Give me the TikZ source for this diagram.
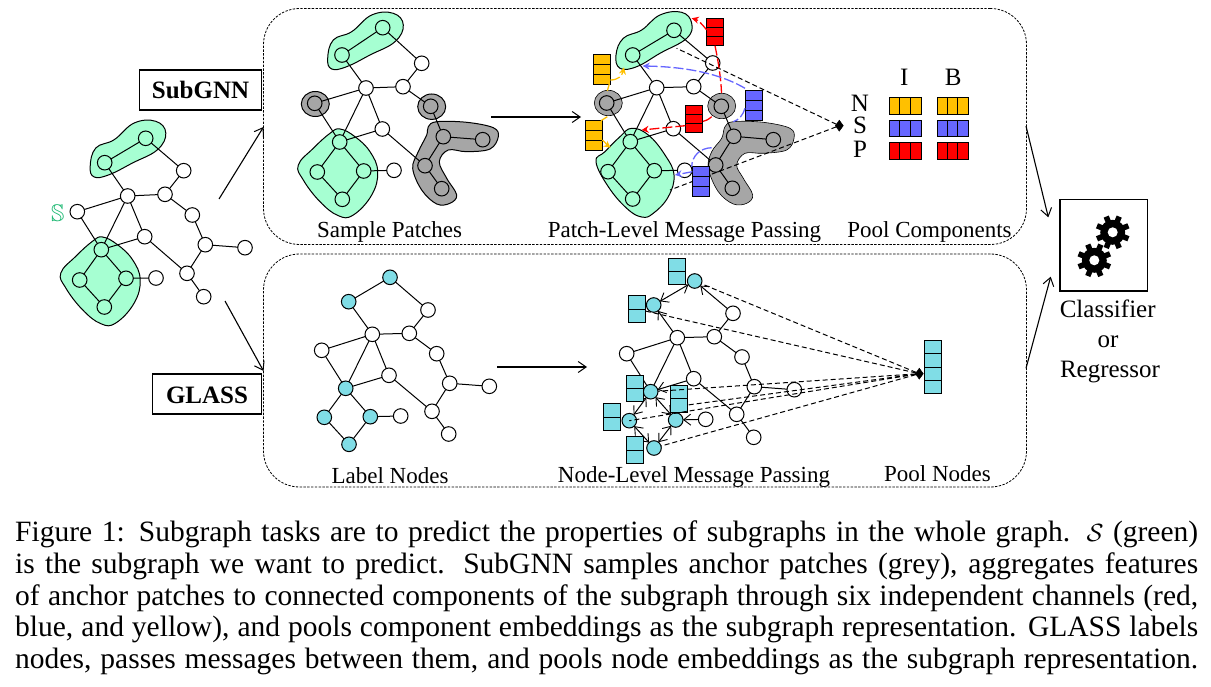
\documentclass[tikz,border=0pt]{standalone}
\usepackage{amssymb}
\usepackage{fontspec}
\setmainfont{Liberation Serif}
\usetikzlibrary{arrows.meta,shapes.geometric,calc}
\definecolor{patchgreen}{HTML}{A6FFD2}
\definecolor{patchgray}{HTML}{A6A6A6}
\definecolor{labcyan}{HTML}{80DDE6}
\definecolor{chyellow}{HTML}{FFC000}
\definecolor{chblue}{HTML}{6666FF}
\definecolor{chred}{HTML}{FF0000}
\definecolor{sgreen}{HTML}{1DB872}
\newcommand\fsz[1]{\fontsize{#1}{#1}\selectfont}
\tikzset{
  gn/.style={circle,draw=black,line width=1pt,minimum size=14.6pt,inner sep=0pt,outer sep=0pt,fill=#1},
  edge/.style={line width=1pt,black},
  blob/.style={draw=black,line width=1pt,fill=#1},
  panel/.style={draw=black,line width=.8pt,dash pattern=on 2.4pt off 1.4pt,rounded corners=36pt,inner sep=0pt,outer sep=0pt},
  opentip/.style={-{Straight Barb[length=8pt,width=11pt,line width=1pt]},line width=1.1pt},
  edgearrow/.style={line width=1pt,-{Straight Barb[length=7pt,width=11pt,line width=.9pt]}},
  edgebiarrow/.style={line width=1pt,{Straight Barb[length=7pt,width=11pt,line width=.9pt]}-{Straight Barb[length=7pt,width=11pt,line width=.9pt]}},
  blackdash/.style={line width=1pt,dash pattern=on 5pt off 3pt},
  chan/.style={line width=1.3pt,dash pattern=on 10pt off 3pt,draw=#1},
  chantip/.style={line width=1.3pt,dash pattern=on 10pt off 3pt,draw=#1,-{Stealth[length=7pt,width=7pt,fill=#1]}},
  lab/.style={anchor=base,inner sep=0pt,font=\fsz{23}},
  big/.style={anchor=base,inner sep=0pt,font=\fsz{25}},
  namebox/.style={draw=black,line width=1.1pt,inner sep=0pt,font=\fsz{25}\bfseries},
  dia/.style={diamond,fill=black,draw=black,inner sep=0pt,minimum width=8pt,minimum height=11pt,outer sep=0pt},
  cell/.style={draw=black,line width=.9pt,inner sep=0pt,outer sep=0pt},
  captext/.style={anchor=base west,inner sep=0pt,font=\fsz{29.5}},
  clflab/.style={anchor=base,inner sep=0pt,font=\fsz{25}}
}
% vertical vector: name, x1, y1, x2, y2, cells, colour
\newcommand\vvec[7]{%
  \node[cell,fill=#7,minimum width={#4pt-#2pt},minimum height={#5pt-#3pt}] (#1) at ({(#2+#4)/2},{(#3+#5)/2}) {};
  \foreach \i in {1,...,#6}{\ifnum\i<#6 \draw[line width=.9pt] ($(#1.north west)!\i/#6!(#1.south west)$) -- ($(#1.north east)!\i/#6!(#1.south east)$);\fi}
}
\newcommand\hvec[6]{%
  \node[cell,fill=#6,minimum width={#4pt-#2pt},minimum height={#5pt-#3pt}] (#1) at ({(#2+#4)/2},{(#3+#5)/2}) {};
  \foreach \i in {1,2}{\draw[line width=.9pt] ($(#1.north west)!\i/3!(#1.north east)$) -- ($(#1.south west)!\i/3!(#1.south east)$);}
}
\newcommand\gearat[2]{%
  \fill[black] (#1,#2) circle (12.5);
  \foreach \t in {0,45,...,315}{\draw[black,line width=5.5pt] (#1,#2) ++(\t+22.5:11) -- ++(\t+22.5:6);}
  \fill[white] (#1,#2) circle (5);
}
\newcommand\gedges[1]{\foreach \u/\v in {a/b,a/c,c/e,b/d,d/e,d/f,d/h,d/k,f/k,k/h,k/m,k/o,m/q,o/q,m/n,e/g,g/i,i/j,i/l,h/l,l/p}{\draw[edge] (#1\u) -- (#1\v);}}
\newcommand\blobA{(327.7,58.3) (333.3,40) (351.7,31.7) (371.7,15) (393.3,13.3) (403.3,25) (395,41.7) (370,55) (346.7,66.7) (331.7,69)}
\newcommand\blobB{(298.3,165) (313.3,148.3) (330,133.3) (340,129) (355,136.7) (370,151.7) (377.7,171.7) (371.7,195) (353.3,215) (338.3,215.7) (320,201.7) (303.3,180)}
\begin{document}
\begin{tikzpicture}[x=1pt,y=-1pt]
\useasboundingbox (0,0) rectangle (1211,687);
% panels
\node[panel,minimum width=763pt,minimum height=236pt] (top) at (645,126.5) {};
\node[panel,minimum width=763pt,minimum height=233pt] (bot) at (645,370.5) {};
% left graph
\begin{scope}[shift={(-237.5,108)}]
\draw[blob=patchgreen] plot[smooth cycle,tension=.7] coordinates {\blobA};
\draw[blob=patchgreen] plot[smooth cycle,tension=.7] coordinates {\blobB};
\end{scope}
\foreach \n/\x/\y/\c in {a/145.7/138.3/patchgreen,b/104.7/162.7/patchgreen,c/183.7/170.7/white,d/127.7/196/white,e/165/194.3/white,f/77.3/211.7/white,g/192.3/215/white,h/144.7/236.7/white,i/205.3/244.7/white,j/245/247.7/white,k/101.3/249.7/patchgreen,l/187/273.3/white,m/126/278.3/patchgreen,n/156/278/white,o/79.7/280/patchgreen,p/203.7/296.7/white,q/104.3/307/patchgreen}{\node[gn=\c] (A\n) at (\x,\y) {};}
\gedges{A}
\node[inner sep=0pt,text=sgreen,font=\fsz{24}] (slabel) at (57.7,213) {$\mathbb{S}$};
% name boxes
\node[namebox,minimum width=122pt,minimum height=40pt] (subgnn) at (200.5,90) {};
\node[inner sep=0pt,anchor=base,font=\fsz{25}\bfseries] (subgnnt) at (200.5,99) {SubGNN};
\node[namebox,minimum width=109pt,minimum height=40pt] (glass) at (207,394) {};
\node[inner sep=0pt,anchor=base,font=\fsz{25}\bfseries] (glasst) at (207,403) {GLASS};
\coordinate (s1) at (219,199); \coordinate (s2) at (225,301);
\draw[opentip] (s1) -- (top.west |- 0,127);
\draw[opentip] (s2) -- (bot.west |- 0,371);
% graph 2
\draw[blob=patchgreen] plot[smooth cycle,tension=.7] coordinates {\blobA};
\draw[blob=patchgreen] plot[smooth cycle,tension=.7] coordinates {\blobB};
\draw[blob=patchgray] plot[smooth cycle,tension=.6] coordinates {(428.3,126.7) (436.7,121.7) (466.7,122.3) (493.3,127.7) (498.3,136.7) (490,149) (466.7,151.7) (448.3,150) (439.3,161.7) (446.7,178.3) (456.7,195) (450,203.3) (436.7,204) (421.7,190) (412.7,168.3) (418.3,151.7) (426.7,135)};
\draw[blob=patchgray] (315.3,104) ellipse (14 and 12.5);
\draw[blob=patchgray] (431.7,106.7) ellipse (14 and 12.7);
\foreach \n/\x/\y/\c in {a/382.7/27.7/patchgreen,b/342/55/patchgreen,c/421.7/63.3/white,d/366/88/white,e/403/86.7/white,f/314.7/103.3/patchgray,g/430.7/106.3/patchgray,h/382.3/129/white,i/443.3/136.7/patchgray,j/482.7/139.7/patchgray,k/339.7/142/patchgreen,l/425/165.7/patchgray,m/363.7/171/patchgreen,n/394/170.3/white,o/317.3/172/patchgreen,p/441.7/188.7/patchgray,q/342.3/199.3/patchgreen}{\node[gn=\c] (B\n) at (\x,\y) {};}
\gedges{B}
\node[lab] (l1) at (389.5,237.5) {Sample Patches};
\coordinate (m1) at (491,117); \coordinate (m2) at (581,117);
\draw[opentip] (m1) -- (m2);
% graph 3
\draw[blob=patchgreen] plot[smooth cycle,tension=.7] coordinates {(616,55) (623.3,38.3) (641.7,30) (660,15) (681.7,12.3) (691.7,23.3) (686.7,38.3) (660,53.3) (636.7,66.7) (620,68.3)};
\draw[blob=patchgreen] plot[smooth cycle,tension=.7] coordinates {(596,161.7) (605,151.7) (620,136.7) (631.7,128.3) (648.3,135) (665,155) (674,175) (668.3,196.7) (653.3,213.3) (641.7,217) (626.7,208.3) (608.3,186.7)};
\draw[draw=black,line width=.6pt,fill=patchgray] plot[smooth cycle,tension=.6] coordinates {(725,126.7) (733.3,121.7) (763.3,122.3) (790,128.3) (794,138.3) (786.7,150) (763.3,153.3) (745,153.3) (736.7,165) (743.3,178.3) (752.7,195) (746.7,203.3) (733.3,204) (718.3,191.7) (708.3,168.3) (711.7,151.7) (721.7,138.3)};
\draw[draw=black,line width=.6pt,fill=patchgray] (608.3,103) ellipse (14 and 12.7);
\draw[draw=black,line width=.6pt,fill=patchgray] (721.7,106) ellipse (14 and 12.7);
\foreach \n/\x/\y/\c in {a/674/30.3/patchgreen,b/632.7/55/patchgreen,c/712.7/63/white,d/656.7/87.7/white,e/693.7/86.7/white,f/606.7/103/patchgray,g/721.3/106.3/patchgray,h/673.3/128.7/white,i/733.7/136.3/patchgray,j/773.3/139.7/patchgray,k/630.3/141.7/patchgreen,l/715.7/165/patchgray,m/654.3/170.7/patchgreen,n/684.7/170.3/white,o/608/171.7/patchgreen,p/732.3/188.3/patchgray,q/632.7/199/patchgreen}{\node[gn=\c] (C\n) at (\x,\y) {};}
\gedges{C}
\node[dia] (d1) at (839.3,125.7) {};
\coordinate (d1a) at (676.7,48.3); \coordinate (d1b) at (670,190);
\draw[blackdash] (d1) -- (d1a);
\draw[blackdash] (d1) -- (d1b);
\vvec{yt}{593.7}{54}{610.3}{84}{3}{chyellow}
\vvec{yb}{585.7}{120.7}{602.3}{150.7}{3}{chyellow}
\vvec{rt}{706.7}{18.7}{723.3}{45.7}{3}{chred}
\vvec{rm}{685.3}{105.7}{702}{132.3}{3}{chred}
\vvec{bt}{745.3}{90.3}{762}{120.7}{3}{chblue}
\vvec{bb}{692.3}{166.3}{709}{196.7}{3}{chblue}
% channel arcs
\coordinate (rt1) at (691.7,18.3); \coordinate (rm1) at (641.7,130); \coordinate (rg) at (711.7,116.7);
\coordinate (rg2) at (721.5,93);
\draw[chan=chred] (rt.south) .. controls (718,60) and (721,78) .. (rg2);
\draw[chantip=chred] (706.7,30) .. controls (702,24) and (698,20) .. (rt1);
\draw[chan=chred] (rg) .. controls (708,120) and (705,121) .. (702,121.7);
\draw[chantip=chred] (685.3,125.7) -- (rm1);
\coordinate (bt1) at (642.7,66); \coordinate (bt0) at (745,88.3);
\draw[chantip=chblue] (bt0) .. controls (716.7,71.7) and (680,66.7) .. (bt1);
\coordinate (bt2) at (733.3,121.7);
\draw[chan=chblue] (745,108.3) .. controls (743,115) and (739,120) .. (bt2);
\coordinate (bb1) at (711.7,147.7);\coordinate (bb2) at (691.7,166.7);
\draw[chan=chblue] (bb1) .. controls (700,148) and (692,156) .. (bb2);
\coordinate (bb3) at (675,175);
\draw[chantip=chblue] (692.3,171.7) -- (bb3);
\coordinate (yt1) at (624,67.3);
\draw[chan=chyellow] (609.3,84) -- (607.3,91);
\draw[chantip=chyellow] (610.3,80) .. controls (618,80) and (622,76) .. (yt1);
\draw[chan=chyellow] (607.3,116.7) -- (601,120.7);
\coordinate (yb1) at (610.7,147.7);
\draw[chantip=chyellow] (602.3,140) .. controls (605,142) and (607,145) .. (yb1);
\node[lab] (l2) at (684.5,237.5) {Patch-Level Message Passing};
% table
\foreach \t/\y in {N/111.7,S/134,P/158}{\node[big] (t\t) at (860,\y) {\t};}
\node[big] (tI) at (904.3,85.7) {I};
\node[big] (tB) at (953.3,85.7) {B};
\hvec{n1}{889.3}{97.7}{921}{114}{chyellow}
\hvec{n2}{937}{97.7}{968.3}{114}{chyellow}
\hvec{s1b}{889.3}{120}{921}{136.3}{chblue}
\hvec{s2b}{937}{120}{968.3}{136.3}{chblue}
\hvec{p1}{889.3}{142.7}{921}{159}{chred}
\hvec{p2}{937}{142.7}{968.3}{159}{chred}
\node[lab] (l3) at (929.5,237.7) {Pool Components};
% graph 4
\foreach \n/\x/\y/\c in {a/390/277.3/labcyan,b/348.7/301.7/labcyan,c/428/310/white,d/372.3/334.3/white,e/409.3/333.3/white,f/321.7/350.3/white,g/436.7/353.7/white,h/389/375.3/white,i/449.7/383.3/white,j/489.3/386.3/white,k/345.7/388.3/labcyan,l/432/411.3/white,m/370.3/416.7/labcyan,n/400.7/416/white,o/324.3/417.3/labcyan,p/448.7/434/white,q/349/444.3/labcyan}{\node[gn=\c] (D\n) at (\x,\y) {};}
\gedges{D}
\node[lab] (l4) at (390,483.3) {Label Nodes};
\coordinate (m3) at (497,367); \coordinate (m4) at (587,367);
\draw[opentip] (m3) -- (m4);
% graph 5
\foreach \n/\x/\y/\c in {a/694.7/281/labcyan,b/653.7/305/labcyan,c/733/313.3/white,d/677.3/337.7/white,e/714.3/336.7/white,f/626.7/353.7/white,g/742/357/white,h/693.7/378.7/white,i/754.3/386.7/white,j/794.3/389.7/white,k/650.7/391.7/labcyan,l/736.7/414.3/white,m/675.7/420/labcyan,n/705.7/419.3/white,o/629.3/420.7/labcyan,p/753.7/437.3/white,q/654/448/labcyan}{\node[gn=\c] (E\n) at (\x,\y) {};}
\foreach \u/\v in {c/e,d/e,d/f,d/h,d/k,f/k,e/g,g/i,i/j,i/l,h/l,l/p}{\draw[edge] (E\u) -- (E\v);}
\foreach \u/\v in {c/a,d/b,h/k,n/m}{\draw[edgearrow] (E\u) -- (E\v);}
\foreach \u/\v in {a/b,k/m,k/o,m/q,o/q}{\draw[edgebiarrow] (E\u) -- (E\v);}
\vvec{c1}{668.7}{258}{685.7}{284.7}{2}{labcyan}
\vvec{c2}{628}{295.7}{645}{322.3}{2}{labcyan}
\vvec{c3}{626.7}{375}{643.7}{401}{2}{labcyan}
\vvec{c4}{670.7}{385.3}{687.7}{412.3}{2}{labcyan}
\vvec{c5}{603.7}{403.7}{620.7}{430.3}{2}{labcyan}
\vvec{c6}{626.7}{436.7}{643.7}{463.3}{2}{labcyan}
\vvec{pool}{924.3}{340.3}{941.3}{393.7}{4}{labcyan}
\node[dia] (d2) at (919.3,373.7) {};
\coordinate (c4low) at (687.7,405);
\draw[blackdash] (d2) -- (Ea);
\draw[blackdash] (d2) -- (c2);
\draw[blackdash] (d2) -- (Ek);
\draw[blackdash] (d2) -- (c4low);
\draw[blackdash] (d2) -- (Eo.center);
\draw[blackdash] (d2) -- (Eq);
\node[lab] (l5) at (694,482.3) {Node-Level Message Passing};
\node[lab] (l6) at (937.5,481.7) {Pool Nodes};
% classifier
\node[draw=black,line width=1.1pt,minimum width=87.7pt,minimum height=91.7pt,inner sep=0pt,outer sep=0pt] (clf) at (1103.8,245.2) {};
\gearat{1112.7}{232.3}
\gearat{1094.3}{260.3}
\coordinate (c1s) at (1026,126); \coordinate (c1e) at (1048.3,217.3);
\coordinate (c2s) at (1026,368.3); \coordinate (c2e) at (1050.7,276.7);
\draw[opentip] (c1s) -- (c1e);
\draw[opentip] (c2s) -- (c2e);
\node[clflab] (k1) at (1107.7,317.5) {Classifier};
\node[clflab] (k2) at (1108,347.5) {or};
\node[clflab] (k3) at (1110,377.5) {Regressor};
% caption
\node[captext] (cap1) at (15,541) {\hbox to 1183pt{Figure 1: Subgraph tasks are to predict the properties of subgraphs in the whole graph. $\mathcal{S}$ (green)}};
\node[captext] (cap2) at (15,573) {\hbox to 1183pt{is the subgraph we want to predict. SubGNN samples anchor patches (grey), aggregates features}};
\node[captext] (cap3) at (15,605) {\hbox to 1183pt{of anchor patches to connected components of the subgraph through six independent channels (red,}};
\node[captext] (cap4) at (15,636) {\hbox to 1183pt{blue, and yellow), and pools component embeddings as the subgraph representation. GLASS labels}};
\node[captext] (cap5) at (15,668) {\hbox to 1183pt{nodes, passes messages between them, and pools node embeddings as the subgraph representation.}};
\end{tikzpicture}
\end{document}
